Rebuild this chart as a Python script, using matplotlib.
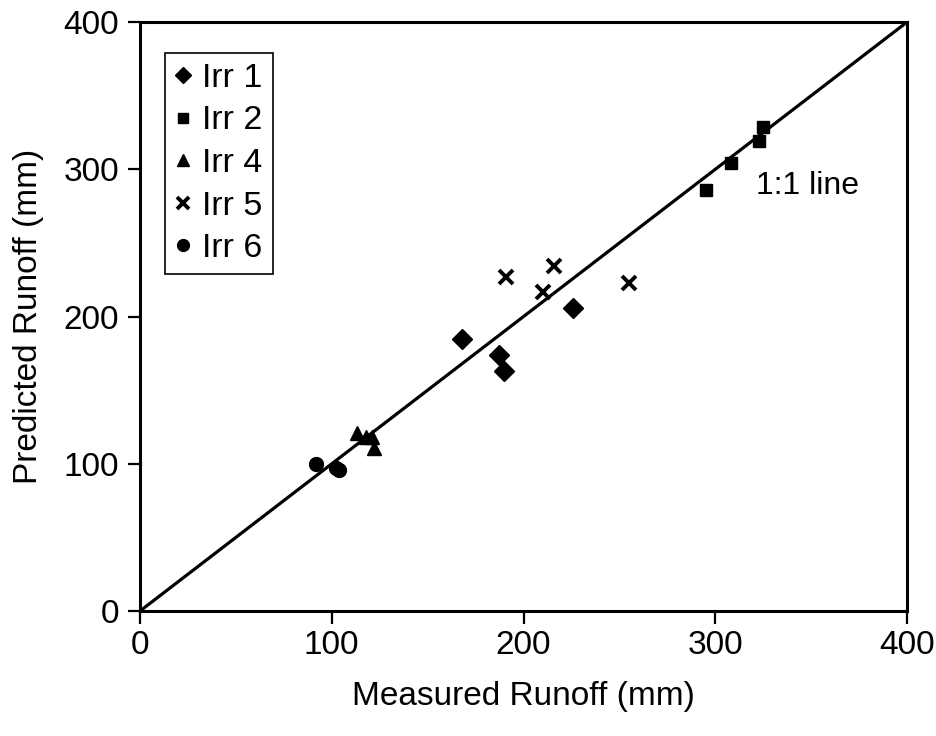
import matplotlib
matplotlib.use("Agg")
import matplotlib.pyplot as plt

plt.rcParams['font.family'] = ['Liberation Sans', 'DejaVu Sans']

# Data (measured, predicted) in mm
irr1_x = [168, 187, 190, 226]
irr1_y = [185, 174, 163, 206]
irr2_x = [295, 308, 323, 325]
irr2_y = [286, 304, 319, 329]
irr4_x = [113, 118, 121, 122]
irr4_y = [121, 118, 118, 111]
irr5_x = [191, 216, 210, 255]
irr5_y = [227, 234, 217, 223]
irr6_x = [92, 102, 104]
irr6_y = [100, 97, 96]

series = [
    ("Irr 1", irr1_x, irr1_y, "D", 10),
    ("Irr 2", irr2_x, irr2_y, "s", 9),
    ("Irr 4", irr4_x, irr4_y, "^", 10),
    ("Irr 5", irr5_x, irr5_y, "x", 10),
    ("Irr 6", irr6_x, irr6_y, "o", 10),
]

ticks = [0, 100, 200, 300, 400]

fig = plt.figure(figsize=(9.37, 7.36), dpi=100)
ax = fig.add_axes([0.1494, 0.1698, 0.968 - 0.1494, 0.970 - 0.1698])

ax.plot([0, 400], [0, 400], color='black', lw=2.3, zorder=2)

for label, xs, ys, m, ms in series:
    if m == 'x':
        ax.plot(xs, ys, linestyle='none', marker=m, markersize=ms, color='black',
                markeredgewidth=2.8, label=label, zorder=3)
    else:
        ax.plot(xs, ys, linestyle='none', marker=m, markersize=ms, color='black',
                markeredgecolor='black', label=label, zorder=3)

ax.text(321, 289, "1:1 line", fontsize=23, va='center', ha='left')

ax.set_xlim(0, 400)
ax.set_ylim(0, 400)
ax.set_xticks(ticks)
ax.set_yticks(ticks)
ax.tick_params(direction='out', length=9, width=1.6, labelsize=24)
ax.tick_params(axis='x', pad=5)
ax.tick_params(axis='y', pad=6)
for s in ax.spines.values():
    s.set_linewidth(2.2)

ax.set_xlabel("Measured Runoff (mm)", fontsize=24, labelpad=14)
ax.set_ylabel("Predicted Runoff (mm)", fontsize=24, labelpad=14)

leg = ax.legend(loc='upper left', bbox_to_anchor=(0.032, 0.948), fontsize=24.5,
                frameon=True, fancybox=False, edgecolor='black', framealpha=1,
                handlelength=0.5, handletextpad=0.3, labelspacing=0.34,
                borderpad=0.3, borderaxespad=0, markerscale=0.85)
leg.get_frame().set_linewidth(1.2)

fig.savefig("out.png", dpi=100)
